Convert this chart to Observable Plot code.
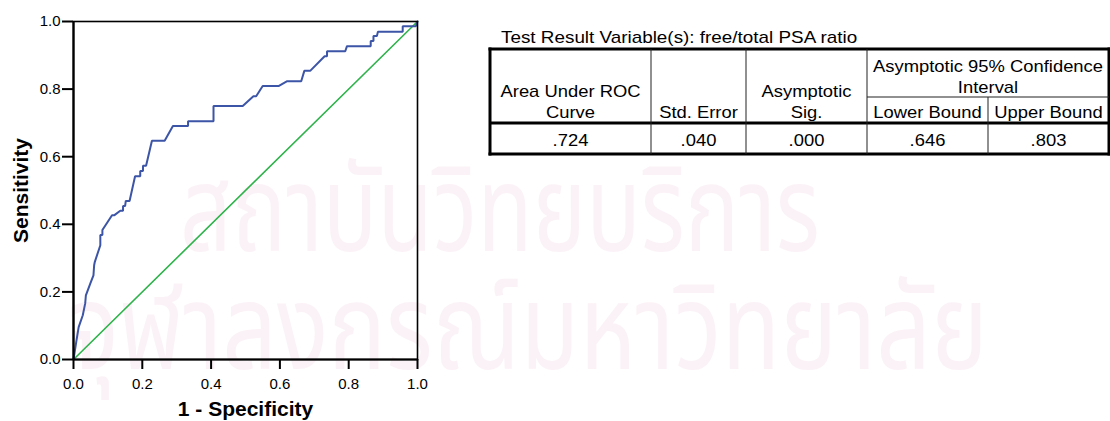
<!DOCTYPE html>
<html>
<head>
<meta charset="utf-8">
<script src="https://cdn.jsdelivr.net/npm/d3@7"></script>
<script src="https://cdn.jsdelivr.net/npm/@observablehq/plot@0.6"></script>
<style>
  html, body { margin: 0; padding: 0; background: #fff; }
  #page { position: relative; width: 1110px; height: 421px; overflow: hidden; font-family: "Liberation Sans", Arial, sans-serif; }
  #wm, #chart, #tbl { position: absolute; left: 0; top: 0; }
</style>
</head>
<body>
<div id="page">
  <svg id="wm" width="1110" height="421"></svg>
  <div id="chart"></div>
  <svg id="tbl" width="1110" height="421"></svg>
</div>
<script>
// ---------- data ----------
const fpr = [0, 0.008, 0.015, 0.027, 0.034, 0.036, 0.049, 0.058, 0.060, 0.062, 0.078, 0.078, 0.084, 0.084,
  0.112, 0.119, 0.136, 0.144, 0.144, 0.150, 0.152, 0.163, 0.179, 0.194, 0.194, 0.202, 0.202, 0.211,
  0.228, 0.265, 0.289, 0.333, 0.333, 0.407, 0.407, 0.492, 0.523, 0.531, 0.550, 0.596, 0.620, 0.662,
  0.671, 0.688, 0.730, 0.737, 0.737, 0.790, 0.795, 0.864, 0.864, 0.872, 0.872, 0.882, 0.885, 0.957,
  0.957, 0.995, 1];
const tpr = [0, 0.052, 0.096, 0.131, 0.166, 0.190, 0.225, 0.249, 0.279, 0.289, 0.338, 0.368, 0.368, 0.383,
  0.427, 0.427, 0.440, 0.440, 0.454, 0.454, 0.469, 0.469, 0.542, 0.542, 0.558, 0.558, 0.573, 0.573,
  0.647, 0.647, 0.691, 0.691, 0.705, 0.705, 0.750, 0.750, 0.779, 0.779, 0.809, 0.809, 0.823, 0.823,
  0.854, 0.854, 0.897, 0.897, 0.912, 0.912, 0.927, 0.927, 0.942, 0.942, 0.957, 0.957, 0.970, 0.970,
  0.986, 0.986, 1];
const refX = [0, 1];
const refY = [0, 1];
const tickValues = [0, 0.2, 0.4, 0.6, 0.8, 1.0];
const tickLabels = ["0.0", "0.2", "0.4", "0.6", "0.8", "1.0"];
const xTitle = "1 - Specificity";
const yTitle = "Sensitivity";

const tableTitle = "Test Result Variable(s): free/total PSA ratio";
const colHeaders = [["Area Under ROC", "Curve"], ["Std. Error"], ["Asymptotic", "Sig."]];
const groupHeader = ["Asymptotic 95% Confidence", "Interval"];
const subHeaders = ["Lower Bound", "Upper Bound"];
const rowValues = [".724", ".040", ".000", ".646", ".803"];

const watermark = ["สถาบันวิทยบริการ", "จุฬาลงกรณ์มหาวิทยาลัย"];

// ---------- chart ----------
const roc = fpr.map((x, i) => ({x, y: tpr[i]}));
const ref = refX.map((x, i) => ({x, y: refY[i]}));
const fmt = d => tickLabels[tickValues.indexOf(d)];

const chart = Plot.plot({
  width: 440, height: 421,
  marginLeft: 73, marginRight: 23, marginTop: 21, marginBottom: 62,
  style: {background: "transparent", fontFamily: "'Liberation Sans', Arial, sans-serif", color: "#000"},
  x: {domain: [0, 1]},
  y: {domain: [0, 1]},
  marks: [
    Plot.line(ref, {x: "x", y: "y", stroke: "#2db34a", strokeWidth: 1.6}),
    Plot.line(roc, {x: "x", y: "y", stroke: "#3d55a6", strokeWidth: 2, strokeLinejoin: "miter"}),
    Plot.frame({stroke: "#000", strokeWidth: 1.6}),
    Plot.ruleX([0], {stroke: "#000", strokeWidth: 2.2}),
    Plot.ruleY([0], {stroke: "#000", strokeWidth: 2.2}),
    Plot.axisX({ticks: tickValues, tickFormat: fmt, tickSize: 10, tickPadding: 9, fontSize: 15, stroke: "#000", strokeWidth: 2, label: null}),
    Plot.axisY({ticks: tickValues, tickFormat: fmt, tickSize: 11, tickPadding: 2, fontSize: 15, stroke: "#000", strokeWidth: 2, label: null}),
    Plot.text([xTitle], {frameAnchor: "bottom", textAnchor: "middle", lineAnchor: "middle", dy: 50, fontSize: 21, fontWeight: "bold", fill: "#000"}),
    Plot.text([yTitle], {frameAnchor: "left", textAnchor: "middle", lineAnchor: "middle", dx: -52, rotate: -90, fontSize: 21, fontWeight: "bold", fill: "#000"})
  ]
});
document.getElementById("chart").appendChild(chart);

// ---------- watermark ----------
const wm = d3.select("#wm");
const thaiFonts = "'Noto Sans Thai', 'Noto Serif Thai', Garuda, Loma, 'TlwgTypo', 'DejaVu Sans', sans-serif";
wm.append("text").attr("x", 180).attr("y", 251).attr("textLength", 640).attr("lengthAdjust", "spacingAndGlyphs")
  .attr("font-size", 120).attr("fill", "#fbf2f7").attr("font-family", thaiFonts)
  .text(watermark[0]);
wm.append("text").attr("x", 68).attr("y", 369).attr("textLength", 920).attr("lengthAdjust", "spacingAndGlyphs")
  .attr("font-size", 120).attr("fill", "#fbf2f7").attr("font-family", thaiFonts)
  .text(watermark[1]);

// ---------- table ----------
const t = d3.select("#tbl").style("font-family", "'Liberation Sans', Arial, sans-serif");
const cols = [490, 651, 746, 867, 988, 1109];
const tTop = 49, hMid = 97, hBot = 123, tBot = 154;
const fs = 16;
function txt(x, y, s, anchor = "middle", sx = 1.15) {
  t.append("text").attr("transform", `translate(${x},${y}) scale(${sx},1)`)
    .attr("text-anchor", anchor).attr("font-size", fs).attr("fill", "#000").text(s);
}
function rect(x, y, w, h, c = "#000") {
  t.append("rect").attr("x", x).attr("y", y).attr("width", w).attr("height", h).attr("fill", c);
}
txt(501, 43, tableTitle, "start", 1.18);
// borders
rect(cols[0] - 1.5, tTop - 1.5, cols[5] - cols[0] + 3, 3);
rect(cols[0] - 1.5, tBot - 1.5, cols[5] - cols[0] + 3, 3);
rect(cols[0] - 1.5, tTop - 1.5, 3, tBot - tTop + 3);
rect(cols[5] - 1.5, tTop - 1.5, 3, tBot - tTop + 3);
rect(cols[0], hBot - 1.5, cols[5] - cols[0], 3);
[1, 2, 3].forEach(i => rect(cols[i] - 0.5, tTop, 1, tBot - tTop, "#222"));
rect(cols[4] - 0.5, hMid, 1, tBot - hMid, "#222");
rect(cols[3], hMid - 0.5, cols[5] - cols[3], 1, "#222");
// header text
const cx = i => (cols[i] + cols[i + 1]) / 2;
txt(cx(0), 97, colHeaders[0][0]); txt(cx(0), 118, colHeaders[0][1]);
txt(cx(1), 118, colHeaders[1][0]);
txt(cx(2), 97, colHeaders[2][0]); txt(cx(2), 118, colHeaders[2][1]);
txt((cols[3] + cols[5]) / 2, 72, groupHeader[0]); txt((cols[3] + cols[5]) / 2, 93, groupHeader[1]);
txt(cx(3), 118, subHeaders[0]); txt(cx(4), 118, subHeaders[1]);
rowValues.forEach((v, i) => txt(cx(i), 146, v));
</script>
</body>
</html>
